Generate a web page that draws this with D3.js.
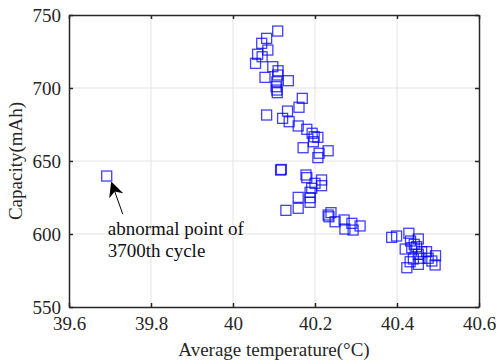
<!DOCTYPE html>
<html lang="en">
<head>
    <meta charset="UTF-8">
    <title>Capacity vs temperature</title>
    <script src="https://d3js.org/d3.v7.min.js"></script>
    <style>
        body { margin: 0; background: #fff; }
        svg text { font-family: "Liberation Serif", "Times New Roman", serif !important; }
    </style>
</head>
<body>
    <script>
        // average temperature (°C) and capacity (mAh) of each cycle
        const temps = [
            40.109, 40.082, 40.070, 40.085, 40.060, 40.071, 40.055, 40.097, 40.110, 40.109,
            40.078, 40.135, 40.107, 40.105, 40.107, 40.108, 40.169, 40.161, 40.133, 40.082,
            40.121, 40.137, 40.159, 40.180, 40.193, 40.198, 40.207, 40.196, 40.171, 40.232,
            40.210, 40.207, 40.116, 40.118, 40.178, 40.180, 40.216, 40.200, 40.216, 40.192,
            40.188, 40.188, 40.159, 40.188, 40.159, 40.129, 40.239, 40.232, 40.234, 40.249,
            40.271, 40.273, 40.290, 40.293, 40.310,
            40.387, 40.399, 40.429, 40.452, 40.433, 40.420, 40.442, 40.448, 40.436, 40.472,
            40.452, 40.494, 40.476, 40.485, 40.432, 40.452, 40.424, 40.493, 40.440, 40.460,
            40.456,
            39.692
        ];
        const capacities = [
            739.0, 734.0, 730.6, 726.0, 723.1, 721.4, 716.9, 714.6, 711.8, 708.9,
            707.3, 705.0, 704.3, 700.9, 698.6, 696.8, 692.9, 686.8, 684.2, 681.5,
            679.2, 676.9, 674.0, 671.7, 669.0, 666.6, 666.2, 663.2, 659.1, 657.0,
            655.3, 652.3, 643.8, 644.2, 640.4, 638.6, 637.0, 634.7, 633.1, 631.3,
            628.6, 624.9, 625.1, 621.7, 617.6, 616.2, 614.6, 613.0, 611.8, 608.4,
            609.6, 603.4, 607.3, 602.7, 605.5,
            597.7, 598.6, 600.5, 596.6, 595.2, 589.7, 592.9, 591.3, 590.6, 587.9,
            586.1, 585.1, 583.4, 581.5, 581.0, 579.2, 576.9, 578.8, 582.9, 587.9,
            583.4,
            639.7
        ];
        const xTicks = [39.6, 39.8, 40, 40.2, 40.4, 40.6];
        const yTicks = [550, 600, 650, 700, 750];
        const noteLines = ["abnormal point of", "3700th cycle"];
        const notePoint = [39.692, 639.7];

        const w = 496;
        const h = 364;
        const margin = {top: 15, right: 17, bottom: 57, left: 69};
        const serif = "'Liberation Serif', 'Times New Roman', serif";

        const svg = d3.select("body")
            .append("svg")
            .attr("width", w)
            .attr("height", h);

        const xScale = d3.scaleLinear()
            .domain([39.6, 40.6])
            .range([margin.left, w - margin.right]);

        const yScale = d3.scaleLinear()
            .domain([550, 750])
            .range([h - margin.bottom, margin.top]);

        // grid
        svg.append("g")
            .selectAll("line")
            .data(xTicks.slice(1, -1))
            .join("line")
            .attr("x1", d => xScale(d)).attr("x2", d => xScale(d))
            .attr("y1", margin.top).attr("y2", h - margin.bottom)
            .attr("stroke", "#e3e3e3");
        svg.append("g")
            .selectAll("line")
            .data(yTicks.slice(1, -1))
            .join("line")
            .attr("x1", margin.left).attr("x2", w - margin.right)
            .attr("y1", d => yScale(d)).attr("y2", d => yScale(d))
            .attr("stroke", "#e3e3e3");

        // points
        svg.append("g")
            .selectAll("rect")
            .data(temps.map((t, i) => [t, capacities[i]]))
            .join("rect")
            .attr("x", d => xScale(d[0]) - 5)
            .attr("y", d => yScale(d[1]) - 5)
            .attr("width", 10)
            .attr("height", 10)
            .attr("fill", "none")
            .attr("stroke", "#0000ff")
            .attr("stroke-opacity", 0.75)
            .attr("stroke-width", 1.3);

        // axes, ticks pointing inward
        const xAxis = d3.axisBottom(xScale).tickValues(xTicks).tickFormat(d3.format("")).tickSizeInner(-4).tickSizeOuter(0).tickPadding(8);
        const yAxis = d3.axisLeft(yScale).tickValues(yTicks).tickSizeInner(-4).tickSizeOuter(0).tickPadding(8);

        const gx = svg.append("g")
            .attr("transform", "translate(0," + (h - margin.bottom) + ")")
            .call(xAxis);
        const gy = svg.append("g")
            .attr("transform", "translate(" + margin.left + ",0)")
            .call(yAxis);
        const gxTop = svg.append("g")
            .attr("transform", "translate(0," + margin.top + ")")
            .call(d3.axisTop(xScale).tickValues(xTicks).tickSizeInner(-4).tickSizeOuter(0).tickFormat(""));
        const gyRight = svg.append("g")
            .attr("transform", "translate(" + (w - margin.right) + ",0)")
            .call(d3.axisRight(yScale).tickValues(yTicks).tickSizeInner(-4).tickSizeOuter(0).tickFormat(""));

        [gx, gy, gxTop, gyRight].forEach(g => {
            g.attr("font-family", serif).attr("font-size", 19);
            g.selectAll("path, line").attr("stroke", "#262626").attr("stroke-width", 1.5);
            g.selectAll("text").attr("fill", "#262626");
        });
        gx.selectAll("text").attr("dy", "0.8em");
        gy.selectAll("text").attr("dy", "0.35em");

        // axis titles
        svg.append("text")
            .attr("x", (margin.left + w - margin.right) / 2)
            .attr("y", h - 8)
            .attr("text-anchor", "middle")
            .attr("font-family", serif)
            .attr("font-size", 19)
            .attr("fill", "#262626")
            .text("Average temperature(°C)");
        svg.append("text")
            .attr("transform", "translate(22," + (margin.top + h - margin.bottom) / 2 + ") rotate(-90)")
            .attr("text-anchor", "middle")
            .attr("font-family", serif)
            .attr("font-size", 19)
            .attr("fill", "#262626")
            .text("Capacity(mAh)");

        // annotation
        const tipX = xScale(notePoint[0]) + 5;
        const tipY = yScale(notePoint[1]) + 7;
        svg.append("defs").append("marker")
            .attr("id", "head")
            .attr("viewBox", "0 0 10 10")
            .attr("refX", 9).attr("refY", 5)
            .attr("markerWidth", 15).attr("markerHeight", 15)
            .attr("markerUnits", "userSpaceOnUse")
            .attr("orient", "auto")
            .append("path")
            .attr("d", "M0,0 L10,5 L0,10 L3,5 Z")
            .attr("fill", "#000");
        svg.append("line")
            .attr("x1", tipX + 11).attr("y1", tipY + 31)
            .attr("x2", tipX).attr("y2", tipY)
            .attr("stroke", "#000")
            .attr("stroke-width", 1)
            .attr("marker-end", "url(#head)");

        svg.append("text")
            .attr("font-family", serif)
            .attr("font-size", 19)
            .attr("fill", "#111")
            .attr("y", yScale(notePoint[1]) + 59)
            .selectAll("tspan")
            .data(noteLines)
            .join("tspan")
            .attr("x", xScale(notePoint[0]) + 1)
            .attr("dy", (d, i) => i ? 22 : 0)
            .text(d => d);
    </script>
</body>
</html>
